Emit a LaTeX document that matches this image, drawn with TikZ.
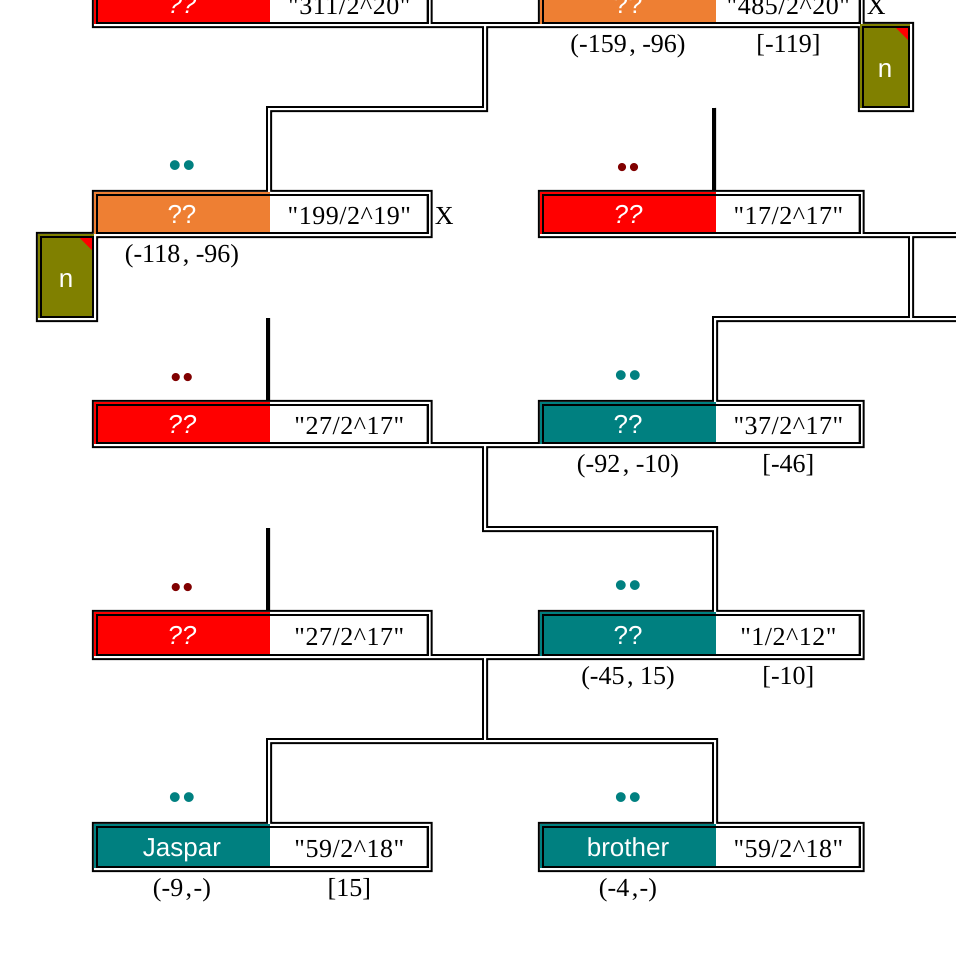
\documentclass[tikz,border=0pt]{standalone}
\usepackage{fontspec}
\setmainfont{Liberation Serif}
\setsansfont{Liberation Sans}
\newfontfamily\ValueFont{Liberation Serif}[LetterSpace=2]
\usetikzlibrary{backgrounds,positioning,fit}
\definecolor{Orange}{HTML}{EE7F33}
\definecolor{Teal}{HTML}{008080}
\definecolor{Olive}{HTML}{808000}
\definecolor{Maroon}{HTML}{800000}

\begin{document}
\begin{tikzpicture}[x=1pt, y=-1pt]
			\tikzstyle{Name}	= [inner sep=0pt, minimum width=176pt, minimum height=42pt, text=white, text height=22pt, text depth=2pt, font=\sffamily\fontsize{26}{26}\selectfont]
			\tikzstyle{Tall}	= [minimum height=44pt]
			\tikzstyle{Risk}	= [fill=red, font=\sffamily\itshape\fontsize{26}{26}\selectfont]
			\tikzstyle{Warn}	= [fill=Orange]
			\tikzstyle{Safe}	= [fill=Teal]
			\tikzstyle{Value}	= [inner sep=0pt, minimum height=42pt, text height=24pt, text depth=2pt, font=\ValueFont\fontsize{26}{26}\selectfont]
			\tikzstyle{ValueL}	= [Value, minimum width=158pt]
			\tikzstyle{ValueR}	= [Value, minimum width=144pt]
			\tikzstyle{Tag}		= [inner sep=0pt, text height=17pt, text depth=6pt, font=\fontsize{26}{26}\selectfont]
			\tikzstyle{Cross}	= [inner sep=0pt, text height=24pt, text depth=2pt, font=\fontsize{26}{26}\selectfont]
			\tikzstyle{Note}	= [fill=Olive, inner sep=0pt, text=white, text height=24pt, text depth=2pt, font=\sffamily\fontsize{26}{26}\selectfont]
			\tikzstyle{Frame}	= [draw, line width=2pt, inner sep=-2pt, outer sep=2pt, xshift=1pt, yshift=-1pt]
			\tikzstyle{Link}	= [draw, line width=2pt, double, double distance=2pt]
			\tikzstyle{Stub}	= [line width=4pt]
			\tikzstyle{DotsT}	= [inner sep=0pt, text height=0pt, text depth=0pt, text=Teal, font=\sffamily\fontsize{36}{36}\selectfont]
			\tikzstyle{DotsM}	= [inner sep=0pt, text height=0pt, text depth=0pt, text=Maroon, font=\sffamily\fontsize{30}{30}\selectfont]

			\useasboundingbox (0, 0) rectangle (956, 956);

			\node (n1n) at (66, 276) [Note][minimum width=56pt, minimum height=84pt] {n};
			\node (n2n) at (885, 66) [Note][minimum width=50pt, minimum height=84pt] {n};
			\fill [red] (80, 238) -- (92, 238) -- (92, 250) -- cycle;
			\fill [red] (896, 28) -- (908, 28) -- (908, 40) -- cycle;

			\node (c1n) at (182, 3) [Name][Risk] {??};
			\node (c1v) [ValueL, right=0pt of c1n] {"311/2\^{}20"};
			\node (c2n) at (628, 3) [Name][Warn] {??};
			\node (c2v) [ValueR, right=0pt of c2n] {"485/2\^{}20"};
			\node (c2a) [Tag, below=11pt of c2n] {(-159\kern2.5pt, -96)};
			\node (c2b) [Tag, below=11pt of c2v] {[-119]};
			\node (c2x) [Cross, right=6pt of c2v] {X};

			\node (c3n) at (182, 213) [Name][Warn] {??};
			\node (c3v) [ValueL, right=0pt of c3n] {"199/2\^{}19"};
			\node (c3a) [Tag, below=11pt of c3n] {(-118\kern2.5pt, -96)};
			\node (c3x) [Cross, right=6pt of c3v] {X};
			\node (c3d) [DotsT, above=13.5pt of c3n] {•\hspace{.04em}•};
			\node (c4n) at (628, 213) [Name][Risk] {??};
			\node (c4v) [ValueR, right=0pt of c4n] {"17/2\^{}17"};
			\node (c4d) [DotsM, above=13.5pt of c4n] {•\hspace{.05em}•};

			\node (c5n) at (182, 423) [Name][Risk] {??};
			\node (c5v) [ValueL, right=0pt of c5n] {"27/2\^{}17"};
			\node (c5d) [DotsM, above=13.5pt of c5n] {•\hspace{.05em}•};
			\node (c6n) at (628, 423) [Name][Safe] {??};
			\node (c6v) [ValueR, right=0pt of c6n] {"37/2\^{}17"};
			\node (c6a) [Tag, below=11pt of c6n] {(-92\kern2.5pt, -10)};
			\node (c6b) [Tag, below=11pt of c6v] {[-46]};
			\node (c6d) [DotsT, above=13.5pt of c6n] {•\hspace{.04em}•};

			\node (c7n) at (182, 634) [Name][Tall][Risk] {??};
			\node (c7v) [ValueL, Tall, right=0pt of c7n] {"27/2\^{}17"};
			\node (c7d) [DotsM, above=13.5pt of c7n] {•\hspace{.05em}•};
			\node (c8n) at (628, 634) [Name][Tall][Safe] {??};
			\node (c8v) [ValueR, Tall, right=0pt of c8n] {"1/2\^{}12"};
			\node (c8a) [Tag, below=11pt of c8n] {(-45\kern2.5pt, 15)};
			\node (c8b) [Tag, below=11pt of c8v] {[-10]};
			\node (c8d) [DotsT, above=13.5pt of c8n] {•\hspace{.04em}•};

			\node (c9n) at (182, 846) [Name][Tall][Safe] {Jaspar};
			\node (c9v) [ValueL, Tall, right=0pt of c9n] {"59/2\^{}18"};
			\node (c9a) [Tag, below=11pt of c9n] {(-9\kern2.5pt, \kern-5pt-)};
			\node (c9b) [Tag, below=11pt of c9v] {[15]};
			\node (c9d) [DotsT, above=13.5pt of c9n] {•\hspace{.04em}•};
			\node (c10n) at (628, 846) [Name][Tall][Safe] {brother};
			\node (c10v) [ValueR, Tall, right=0pt of c10n] {"59/2\^{}18"};
			\node (c10a) [Tag, below=11pt of c10n] {(-4\kern2.5pt, \kern-5pt-)};
			\node (c10d) [DotsT, above=13.5pt of c10n] {•\hspace{.04em}•};

			\node (n1) [Frame, fit=(n1n)] {};
			\node (n2) [Frame, fit=(n2n)] {};
			\node (c1) [Frame, fit=(c1n)(c1v)] {};
			\node (c2) [Frame, fit=(c2n)(c2v)] {};
			\node (c3) [Frame, fit=(c3n)(c3v)] {};
			\node (c4) [Frame, fit=(c4n)(c4v)] {};
			\node (c5) [Frame, fit=(c5n)(c5v)] {};
			\node (c6) [Frame, fit=(c6n)(c6v)] {};
			\node (c7) [Frame, fit=(c7n)(c7v)] {};
			\node (c8) [Frame, fit=(c8n)(c8v)] {};
			\node (c9) [Frame, fit=(c9n)(c9v)] {};
			\node (c10) [Frame, fit=(c10n)(c10v)] {};

			\coordinate (j1) at (485, 109);
			\coordinate (j2) at (911, 319);
			\coordinate (j3) at (485, 529);
			\coordinate (j4) at (485, 741);
			\coordinate (e1) at (960, 235);
			\coordinate (e2) at (960, 319);
			\coordinate (s4) at (714, 108);
			\coordinate (s5) at (268, 318);
			\coordinate (s7) at (268, 528);

			\begin{scope}[on background layer]
				\draw [Stub] (s4) to ([xshift=-2pt]c4n.north east);
				\draw [Stub] (s5) to ([xshift=-2pt]c5n.north east);
				\draw [Stub] (s7) to ([xshift=-2pt]c7n.north east);
				\path [Link]
					(n1.north west) rectangle (n1.south east)
					(n2.north west) rectangle (n2.south east)
					(c1.north west) rectangle (c1.south east)
					(c2.north west) rectangle (c2.south east)
					(c3.north west) rectangle (c3.south east)
					(c4.north west) rectangle (c4.south east)
					(c5.north west) rectangle (c5.south east)
					(c6.north west) rectangle (c6.south east)
					(c7.north west) rectangle (c7.south east)
					(c8.north west) rectangle (c8.south east)
					(c9.north west) rectangle (c9.south east)
					(c10.north west) rectangle (c10.south east)
					(c1.south east) -- (c2.south west)
					(j1 |- c1.south east) -- (j1) -| ([xshift=-1pt]c3n.north east)
					(c4.south east) -- (e1)
					(j2 |- c4.south east) -- (j2) -| ([xshift=-1pt]c6n.north east)
					(j2) -- (e2)
					(c5.south east) -- (c6.south west)
					(j3 |- c5.south east) -- (j3) -| ([xshift=-1pt]c8n.north east)
					(c7.south east) -- (c8.south west)
					(j4 |- c7.south east) -- (j4) -| ([xshift=-1pt]c9n.north east)
					(j4) -| ([xshift=-1pt]c10n.north east);
			\end{scope}
		\end{tikzpicture}
\end{document}
